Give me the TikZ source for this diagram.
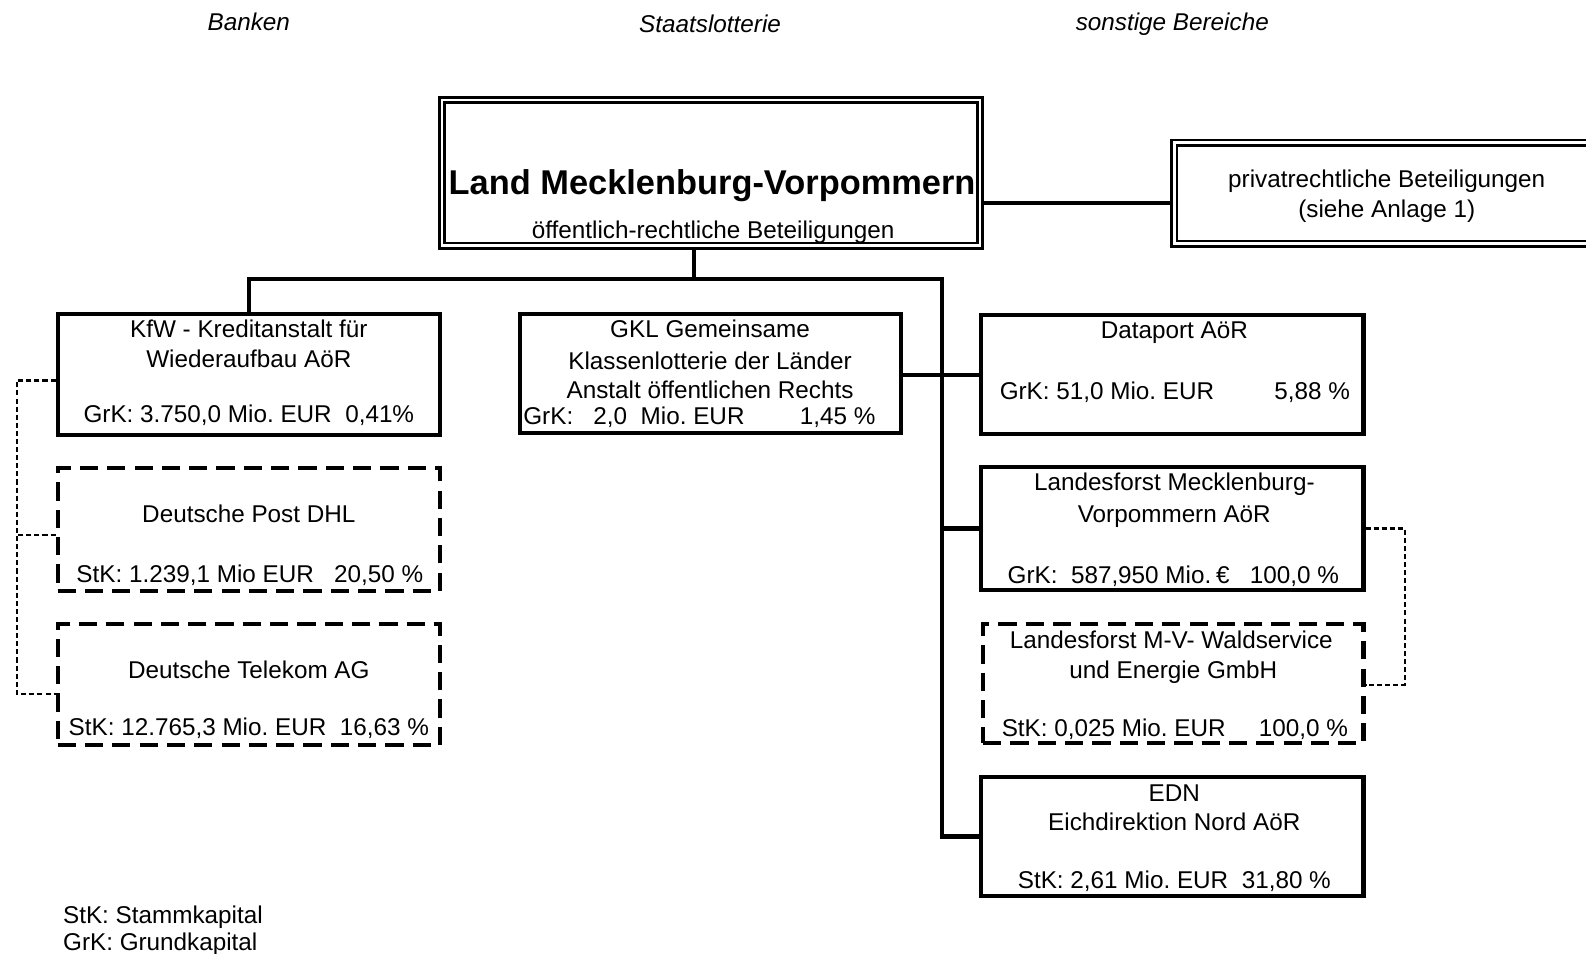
\documentclass[tikz,border=0pt]{standalone}
\usepackage{fontspec}
\setmainfont{Liberation Sans}
\begin{document}
\frenchspacing
\begin{tikzpicture}[x=0.5pt,y=-0.5pt,
  every node/.style={font=\fontsize{12}{14}\selectfont},
  box/.style={draw, line width=2pt, inner sep=0pt},
  dbox/.style={box, dash pattern=on 9pt off 4.5pt},
  dblbox/.style={draw, line width=1.3pt, double, double distance=1.3pt, inner sep=0pt},
  conn/.style={line width=2pt},
  dotline/.style={line width=1.2pt, dash pattern=on 2.5pt off 1.5pt},
  txt/.style={inner sep=0pt, anchor=base},
  hdr/.style={txt, font=\fontsize{12}{14}\selectfont\itshape}]
\useasboundingbox (0,0) rectangle (1568,943);
\clip (0,0) rectangle (1568,943);

% headers
\node[hdr] (h1) at (246,30) {Banken};
\node[hdr] (h2) at (702,32) {Staatslotterie};
\node[hdr] (h3) at (1159,30) {sonstige Bereiche};

% boxes
\node[dblbox, minimum width=266pt, minimum height=72pt] (main) at (703,171) {};
\node[dblbox, minimum width=220pt, minimum height=50pt] (priv) at (1381,191) {};
\node[box, minimum width=189pt, minimum height=60pt] (kfw) at (246,370) {};
\node[dbox, minimum width=189pt, minimum height=60.5pt] (post) at (246,523.5) {};
\node[dbox, minimum width=189pt, minimum height=60pt] (tel) at (246,676.5) {};
\node[box, minimum width=188.5pt, minimum height=59pt] (gkl) at (702.5,369) {};
\node[box, minimum width=189pt, minimum height=59pt] (data) at (1159,370) {};
\node[box, minimum width=189pt, minimum height=61pt] (lf) at (1159,522.5) {};
\node[dbox, minimum width=188pt, minimum height=59pt] (wald) at (1160,676) {};
\node[box, minimum width=189pt, minimum height=59pt] (edn) at (1159,827) {};

% connectors
\coordinate (jm) at (686,276);
\coordinate (jr) at (931,276);
\draw[conn] (main.east |- 0,201) -- (priv.west |- 0,201);
\draw[conn] (main.south -| jm) -- (jm);
\draw[conn] (kfw.north) |- (jr) |- (edn.west);
\draw[conn] (jr |- lf.west) -- (lf.west);
\draw[conn] (gkl.east |- 0,371) -- (data.west |- 0,371);

% dotted brackets
\coordinate (bl) at (17,0);
\coordinate (br) at (1389,0);
\draw[dotline] (kfw.west |- 0,376) -- (bl |- 0,376) |- (tel.west |- 0,686);
\draw[dotline] (post.west |- 0,529) -- (bl |- 0,529);
\draw[dotline] (lf.east) -- (br |- lf.east) |- (wald.east |- 0,677);

% main texts
\node[txt, font=\fontsize{17}{20}\selectfont\bfseries] (t1) at (704,192) {Land Mecklenburg-Vorpommern};
\node[txt] (t2) at (705,235.5) {öffentlich-rechtliche Beteiligungen};
\node[txt] (t3) at (1371,185) {privatrechtliche Beteiligungen};
\node[txt] (t4) at (1371,215) {(siehe Anlage 1)};

% KfW
\node[txt] (k1) at (246,334) {KfW - Kreditanstalt für};
\node[txt] (k2) at (246,363) {Wiederaufbau AöR};
\node[txt] (k3) at (246,418) {GrK: 3.750,0 Mio. EUR\ \ 0,41\%};
% Post
\node[txt] (p1) at (246,517) {Deutsche Post DHL};
\node[txt] (p2) at (247,576) {StK: 1.239,1 Mio EUR\ \ \ 20,50 \%};
% Telekom
\node[txt] (e1) at (246,671) {Deutsche Telekom AG};
\node[txt] (e2) at (246,727) {StK: 12.765,3 Mio. EUR\ \ 16,63 \%};
% GKL
\node[txt] (g1) at (702,334) {GKL Gemeinsame};
\node[txt] (g2) at (702,365) {Klassenlotterie der Länder};
\node[txt] (g3) at (702,394) {Anstalt öffentlichen Rechts};
\node[txt, anchor=base west] (g4) at (517,420) {GrK:\ \ \ 2,0\ \ Mio. EUR};
\node[txt, anchor=base east] (g5) at (866,420) {1,45 \%};
% Dataport
\node[txt] (d1) at (1161,335) {Dataport AöR};
\node[txt, anchor=base west] (d2) at (988,395) {GrK: 51,0 Mio. EUR};
\node[txt, anchor=base east] (d3) at (1335,395) {5,88 \%};
% Landesforst
\node[txt] (l1) at (1161,485) {Landesforst Mecklenburg-};
\node[txt] (l2) at (1161,517) {Vorpommern AöR};
\node[txt] (l3) at (1160,577) {GrK:\ \ 587,950 Mio.\hspace{0.2em}€\ \ \ 100,0 \%};
% Waldservice
\node[txt] (w1) at (1158,641) {Landesforst M-V- Waldservice};
\node[txt] (w2) at (1160,671) {und Energie GmbH};
\node[txt, anchor=base west] (w3) at (990,728) {StK: 0,025 Mio. EUR};
\node[txt, anchor=base east] (w4) at (1333,728) {100,0 \%};
% EDN
\node[txt] (n1) at (1161,792) {EDN};
\node[txt] (n2) at (1161,821) {Eichdirektion Nord AöR};
\node[txt] (n3) at (1161,878) {StK: 2,61 Mio. EUR\ \ 31,80 \%};

% legend
\node[txt, anchor=base west] (lg1) at (62,913) {StK: Stammkapital};
\node[txt, anchor=base west] (lg2) at (62,940) {GrK: Grundkapital};
\end{tikzpicture}
\end{document}
